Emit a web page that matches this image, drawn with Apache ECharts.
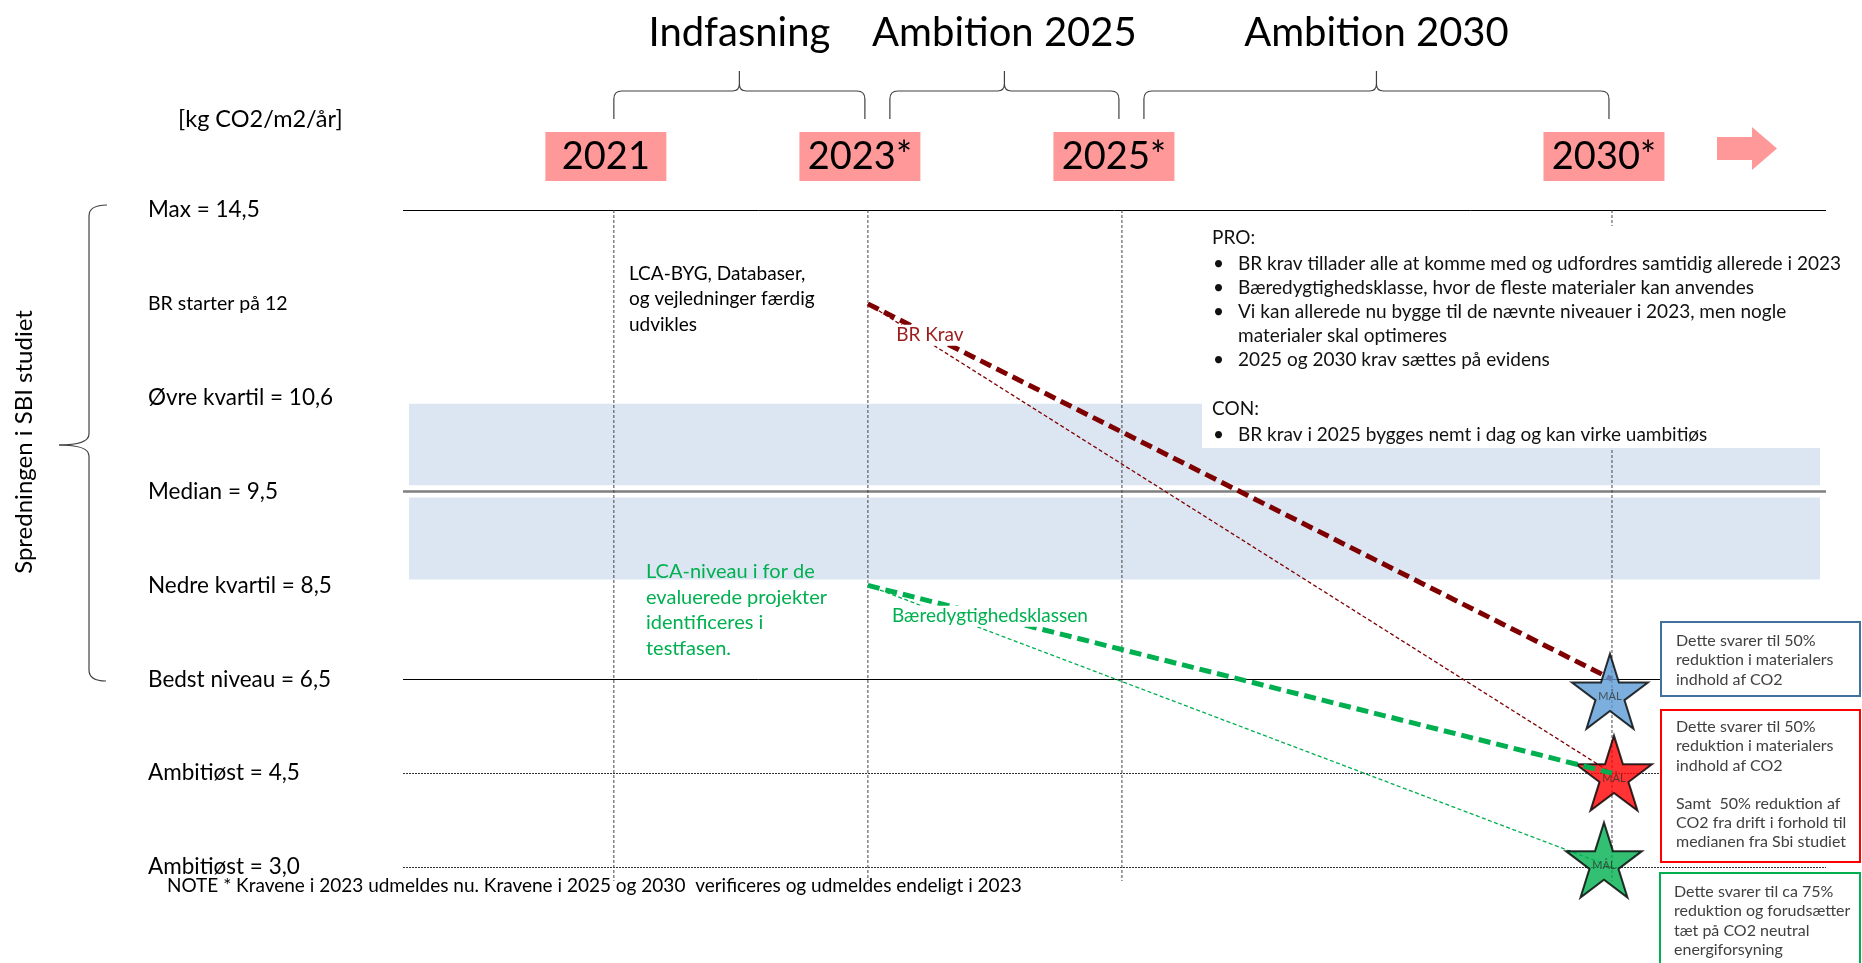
<!DOCTYPE html>
<html><head><meta charset="utf-8">
<script src="https://cdn.jsdelivr.net/npm/echarts@6/dist/echarts.min.js"></script>
<style>html,body{margin:0;padding:0;background:#fff}#c{width:1862px;height:963px}</style>
</head><body><div id="c"></div>
<script>
// ---------------- data ----------------
const milestoneYears = [2021, 2023, 2025, 2030];
const milestoneLabels = ['2021', '2023*', '2025*', '2030*'];
const phaseNames = ['Indfasning', 'Ambition 2025', 'Ambition 2030'];
const phaseFrom = [2021, 2023, 2025];
const phaseTo = [2023, 2025, 2030];
const levelValues = [3.0, 4.5, 6.5, 8.5, 9.5, 10.6, 12, 14.5];
const levelNames = ['Ambitiøst = 3,0', 'Ambitiøst = 4,5', 'Bedst niveau = 6,5', 'Nedre kvartil = 8,5',
  'Median = 9,5', 'Øvre kvartil = 10,6', 'BR starter på 12', 'Max = 14,5'];
const lineLevels = [14.5, 9.5, 6.5, 4.5, 3.0];
const bandTop = 10.6, bandMid = 9.5, bandBottom = 8.5;
const brKrav = [[2023, 12], [2030, 6.5]];
const brKravFine = [[2023, 12], [2030, 4.5]];
const baeredygtig = [[2023, 8.5], [2030, 4.5]];
const baeredygtigFine = [[2023, 8.5], [2030, 3.0]];
const lineLabelTexts = ['BR Krav', 'Bæredygtighedsklassen'];
const targetYears = [2030, 2030, 2030];
const targetLevels = [6.5, 4.5, 3.0];
const targetText = 'MÅL';

// ---------------- styles ----------------
const FONT = 'Lato, "Noto Sans", sans-serif';
const PINK = '#FF9999';
const DARKRED = '#7F0000';
const GREEN = '#00B050';
const starColors = ['#5B9BD5', '#FF0000', '#00B050'];
const starOffsets = [[-2, 12], [2, 0], [-8, -7]];
const levelLineStyles = [
  {color: '#000', width: 1, type: 'solid'},
  {color: '#7F7F7F', width: 2.5, type: 'solid'},
  {color: '#000', width: 1, type: 'solid'},
  {color: '#333', width: 1, type: [2, 1]},
  {color: '#333', width: 1, type: [2, 1]}
];
const lineLabelColors = ['#9C1C1C', GREEN];
const lineLabelShift = [62, 122];
const STAR = 'path://M0,-1 L0.2245,-0.309 L0.951,-0.309 L0.363,0.118 L0.588,0.809 L0,0.382 L-0.588,0.809 L-0.363,0.118 L-0.951,-0.309 L-0.2245,-0.309 Z';

const idx = v => levelValues.indexOf(v);
const levelKeys = levelValues.map(v => String(v));
const topIdx = idx(Math.max.apply(null, levelValues));
const toXY = pts => pts.map(p => [p[0], idx(p[1])]);

const chart = echarts.init(document.getElementById('c'));

function txt(x, y, text, size, color) {
  return {type: 'text', x: x, y: y, z: 30,
    style: {text: text, fontSize: size, fontFamily: FONT, fill: color || '#000', verticalAlign: 'middle'}};
}
const BRACE = {stroke: '#404040', lineWidth: 1.2, fill: 'none'};
function qcurve(x1, y1, cx, cy, x2, y2) {
  return {type: 'bezierCurve', z: 30, shape: {x1: x1, y1: y1, cpx1: cx, cpy1: cy, x2: x2, y2: y2}, style: BRACE};
}
function seg(x1, y1, x2, y2) {
  return {type: 'line', z: 30, shape: {x1: x1, y1: y1, x2: x2, y2: y2}, style: BRACE};
}

const proLines = [
  ['', 'PRO:', 237.5],
  ['•', 'BR krav tillader alle at komme med og udfordres samtidig allerede i 2023', 263.6],
  ['•', 'Bæredygtighedsklasse, hvor de fleste materialer kan anvendes', 287.4],
  ['•', 'Vi kan allerede nu bygge til de nævnte niveauer i 2023, men nogle', 312.3],
  [' ', 'materialer skal optimeres', 336],
  ['•', '2025 og 2030 krav sættes på evidens', 359.8],
  ['', 'CON:', 408.5],
  ['•', 'BR krav i 2025 bygges nemt i dag og kan virke uambitiøs', 434.6]
];

const BOXTXT = {fontSize: 16, lineHeight: 19.2, fontFamily: FONT, fill: '#404040', verticalAlign: 'top'};
const graphics = [
  txt(178, 119, '[kg CO2/m2/år]', 23.5, '#000'),
  {type: 'polygon', z: 30, shape: {points: [[1717, 137], [1752, 137], [1752, 127], [1777, 148.5], [1752, 170], [1752, 160], [1717, 160]]}, style: {fill: PINK}},
  qcurve(107, 205, 89, 205, 89, 216),
  seg(89, 216, 89, 434),
  qcurve(89, 434, 89, 445, 59, 445),
  qcurve(59, 445, 89, 445, 89, 456),
  seg(89, 456, 89, 670),
  qcurve(89, 670, 89, 681, 106, 681),
  {type: 'text', x: 24, y: 442, rotation: Math.PI / 2, z: 30,
    style: {text: 'Spredningen i SBI studiet', fontSize: 24, fontFamily: FONT, fill: '#000', align: 'center', verticalAlign: 'middle'}},
  {type: 'text', x: 629, y: 261, z: 30, style: {text: 'LCA-BYG, Databaser,\nog vejledninger færdig\nudvikles', fontSize: 19, lineHeight: 25.5, fontFamily: FONT, fill: '#000', verticalAlign: 'top'}},
  {type: 'text', x: 646, y: 559, z: 30, style: {text: 'LCA-niveau i for de\nevaluerede projekter\nidentificeres i\ntestfasen.', fontSize: 20, lineHeight: 25.5, fontFamily: FONT, fill: GREEN, verticalAlign: 'top'}},
  {type: 'rect', z: 25, shape: {x: 1202, y: 226, width: 624, height: 222}, style: {fill: '#fff'}},
  {type: 'rect', z: 25, shape: {x: 1661, y: 622, width: 199, height: 74}, style: {fill: '#fff', stroke: '#41719C', lineWidth: 2}},
  {type: 'text', x: 1676, y: 631.4, z: 30, style: Object.assign({text: 'Dette svarer til 50%\nreduktion i materialers\nindhold af CO2'}, BOXTXT)},
  {type: 'rect', z: 25, shape: {x: 1661, y: 710, width: 199, height: 152}, style: {fill: '#fff', stroke: '#FF0000', lineWidth: 2}},
  {type: 'text', x: 1676, y: 717.4, z: 30, style: Object.assign({text: 'Dette svarer til 50%\nreduktion i materialers\nindhold af CO2\n\nSamt  50% reduktion af\nCO2 fra drift i forhold til\nmedianen fra Sbi studiet'}, BOXTXT)},
  {type: 'rect', z: 25, shape: {x: 1660, y: 873, width: 200, height: 100}, style: {fill: '#fff', stroke: GREEN, lineWidth: 2}},
  {type: 'text', x: 1674, y: 882.4, z: 30, style: Object.assign({text: 'Dette svarer til ca 75%\nreduktion og forudsætter\ntæt på CO2 neutral\nenergiforsyning'}, BOXTXT)},
  txt(167, 886, 'NOTE * Kravene i 2023 udmeldes nu. Kravene i 2025 og 2030  verificeres og udmeldes endeligt i 2023', 19, '#000')
];
proLines.forEach(l => {
  if (l[0].trim()) graphics.push(txt(1213, l[2], l[0], 19, '#111'));
  graphics.push(txt(l[0] ? 1238 : 1212, l[2], l[1], 19, '#111'));
});

const option = {
  animation: false,
  backgroundColor: '#fff',
  grid: {left: 403, right: 36, top: 210, bottom: 96, containLabel: false, outerBoundsMode: 'none'},
  xAxis: {
    type: 'value', min: 2019.34, max: 2031.685, show: false,
    breaks: [{start: 2026, end: 2029, gap: 1.858}],
    breakArea: {show: false}
  },
  yAxis: {
    type: 'category', data: levelKeys, boundaryGap: false,
    axisLine: {show: false}, axisTick: {show: false}, splitLine: {show: false},
    axisLabel: {
      interval: 0, align: 'left', margin: 255, fontFamily: FONT, fontSize: 22.5, color: '#000',
      formatter: function (v) {
        const i = levelKeys.indexOf(v);
        return v === '12' ? '{s|' + levelNames[i] + '}' : levelNames[i];
      },
      rich: {s: {fontSize: 19.5, fontFamily: FONT, color: '#000'}}
    }
  },
  series: [
    {
      type: 'line', name: 'levels', data: [], silent: true, z: 1,
      markArea: {
        silent: true, z: 1,
        itemStyle: {color: '#DCE6F2', borderColor: '#fff', borderWidth: 12},
        data: [
          [{yAxis: idx(bandTop)}, {yAxis: idx(bandMid)}],
          [{yAxis: idx(bandMid)}, {yAxis: idx(bandBottom)}]
        ]
      },
      markLine: {
        silent: true, z: 2, symbol: ['none', 'none'], label: {show: false},
        data: lineLevels.map((v, i) => ({yAxis: idx(v), lineStyle: levelLineStyles[i]}))
      }
    },
    {
      type: 'custom', name: 'milestones', clip: false, silent: true, z: 2,
      data: milestoneYears.map((y, i) => [y, topIdx, i]),
      encode: {x: 0, y: 1},
      renderItem: function (params, api) {
        const p = api.coord([api.value(0), api.value(1)]);
        const i = api.value(2);
        const cx = p[0] - 8;
        return {type: 'group', children: [
          {type: 'line', shape: {x1: p[0], y1: p[1], x2: p[0], y2: 881}, style: {stroke: '#444', lineWidth: 1, lineDash: [3, 2]}},
          {type: 'rect', shape: {x: cx - 60.5, y: 132, width: 121, height: 49}, style: {fill: PINK}},
          {type: 'text', x: cx, y: 157, style: {text: milestoneLabels[i], fontSize: 38, fontFamily: FONT, fill: '#000', align: 'center', verticalAlign: 'middle'}}
        ]};
      }
    },
    {
      type: 'custom', name: 'phases', clip: false, silent: true, z: 2,
      data: phaseNames.map((n, i) => [phaseFrom[i], phaseTo[i], topIdx, i]),
      encode: {x: [0, 1], y: 2},
      renderItem: function (params, api) {
        const i = api.value(3);
        const a = api.coord([api.value(0), api.value(2)]);
        const b = api.coord([api.value(1), api.value(2)]);
        const x1 = a[0] + (i > 0 ? 22 : 0), x2 = b[0] - 3, cx = (x1 + x2) / 2;
        const d = `M${x1},119 L${x1},99 Q${x1},91 ${x1 + 8},91 L${cx - 7},91 Q${cx},91 ${cx},84 L${cx},71 ` +
          `M${cx},84 Q${cx},91 ${cx + 7},91 L${x2 - 8},91 Q${x2},91 ${x2},99 L${x2},119`;
        return {type: 'group', children: [
          {type: 'path', shape: {pathData: d}, style: {stroke: '#404040', lineWidth: 1.2, fill: 'none'}},
          {type: 'text', x: cx, y: 33, style: {text: phaseNames[i], fontSize: 40, fontFamily: FONT, fill: '#000', align: 'center', verticalAlign: 'middle'}}
        ]};
      }
    },
    {type: 'line', name: 'BR Krav', data: toXY(brKrav), symbol: 'none', silent: true, z: 2,
      lineStyle: {color: DARKRED, width: 5, type: [12, 6]}},
    {type: 'line', name: 'BR Krav fin', data: toXY(brKravFine), symbol: 'none', silent: true, z: 2,
      lineStyle: {color: DARKRED, width: 1.3, type: [4, 2.5]}},
    {type: 'line', name: 'Bæredygtighedsklassen', data: toXY(baeredygtig), symbol: 'none', silent: true, z: 4,
      lineStyle: {color: GREEN, width: 5, type: [12, 6]}},
    {type: 'line', name: 'Bæredygtighedsklassen fin', data: toXY(baeredygtigFine), symbol: 'none', silent: true, z: 2,
      lineStyle: {color: GREEN, width: 1.3, type: [4, 2.5]}},
    {
      type: 'scatter', name: 'MÅL', clip: false, silent: true, z: 3,
      data: targetYears.map((x, i) => ({value: [x, idx(targetLevels[i])], symbolOffset: starOffsets[i], itemStyle: {color: starColors[i]}})),
      symbol: STAR, symbolSize: [76, 75],
      itemStyle: {borderColor: '#000', borderWidth: 2},
      label: {show: true, position: 'inside', formatter: targetText, offset: [0, 5], fontSize: 11, fontFamily: FONT, color: '#333'}
    },
    {
      type: 'custom', name: 'lineLabels', clip: false, silent: true, z: 6,
      data: [brKrav, baeredygtig].map((l, i) => [l[0][0], idx(l[0][1]), l[1][0], idx(l[1][1]), i]),
      encode: {x: [0, 2], y: [1, 3]},
      renderItem: function (params, api) {
        const i = api.value(4);
        const a = api.coord([api.value(0), api.value(1)]);
        const b = api.coord([api.value(2), api.value(3)]);
        const cx = a[0] + lineLabelShift[i];
        const cy = a[1] + (b[1] - a[1]) * (cx - a[0]) / (b[0] - a[0]);
        return {type: 'text', x: cx, y: cy, style: {text: lineLabelTexts[i], fontSize: 19, fontFamily: FONT,
          fill: lineLabelColors[i], align: 'center', verticalAlign: 'middle', backgroundColor: '#fff', padding: [1, 3]}};
      }
    }
  ],
  graphic: graphics
};
chart.setOption(option);
</script>
</body></html>
